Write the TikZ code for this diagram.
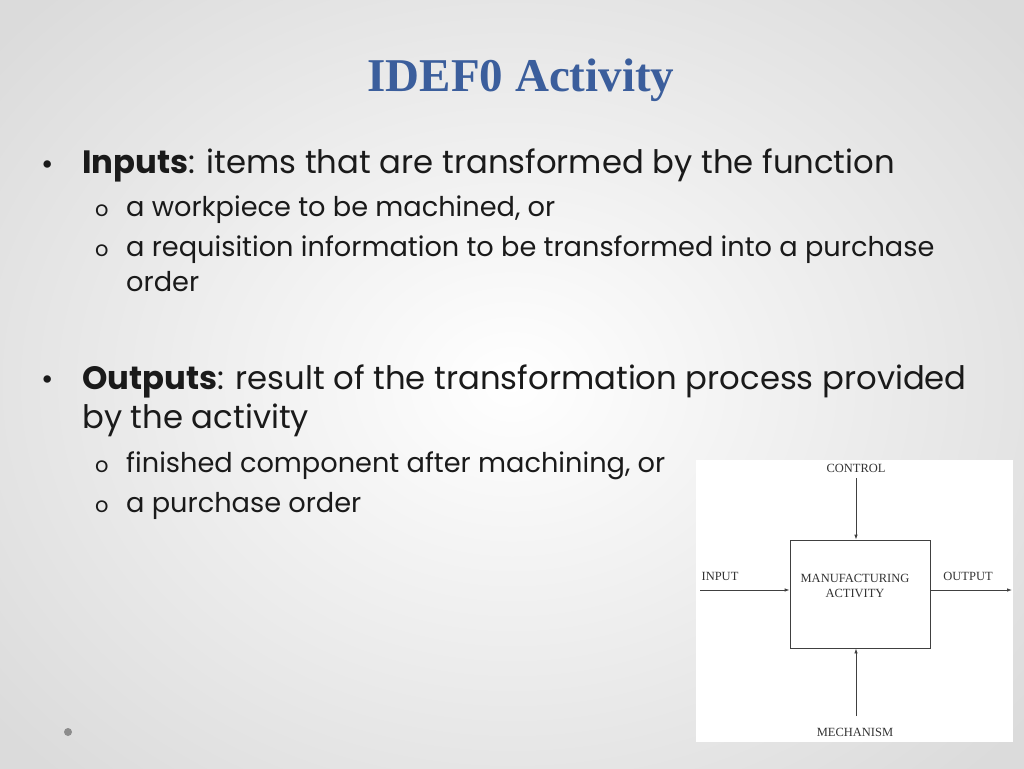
\documentclass[tikz,border=0pt]{standalone}
\usepackage{fontspec}
\setmainfont{Poppins}
\newfontfamily\titlefont{Liberation Serif}
\newfontfamily\diafont{Liberation Serif}
\usetikzlibrary{arrows.meta}
\definecolor{titleblue}{HTML}{3B5E9C}
\definecolor{txt}{HTML}{1A1A1A}
\tikzset{x=1pt,y=-1pt,
 main/.style={anchor=base west,font=\fontsize{32.3}{36}\selectfont,text=txt,inner sep=0},
 sub/.style={anchor=base west,font=\fontsize{27.2}{30}\selectfont,text=txt,inner sep=0},
 omark/.style={anchor=base west,font=\fontsize{21}{24}\selectfont,text=txt,inner sep=0},
 dot/.style={anchor=base,font=\fontsize{30}{34}\selectfont,text=txt,inner sep=0},
 dia/.style={font=\diafont\fontsize{12.5}{14.5}\selectfont,inner sep=0,text=black!80},
 arr/.style={draw=black!75,line width=0.8pt,-{Latex[length=5pt,width=3.5pt]}}}
\begin{document}
\begin{tikzpicture}
\useasboundingbox (0,0) rectangle (1024,768);
\shade[inner color=white,outer color=black!14] (-150,-150) rectangle (1174,918);
\node[font=\titlefont\bfseries\fontsize{47}{52}\selectfont,text=titleblue] (title) at (521,80) {IDEF0 Activity};
\node[dot] (b1) at (48,174) {•};
\node[main] (l1) at (82,173) {\textbf{Inputs}: items that are transformed by the function};
\node[omark] (o1) at (95,216) {o};
\node[sub] (l2) at (126,216) {a workpiece to be machined, or};
\node[omark] (o2) at (95,256) {o};
\node[sub] (l3) at (126,256) {a requisition information to be transformed into a purchase};
\node[sub] (l4) at (126,291) {order};
\node[dot] (b2) at (48,389) {•};
\node[main] (l5) at (82,389) {\textbf{Outputs}: result of the transformation process provided};
\node[main] (l6) at (82,428) {by the activity};
\node[omark] (o3) at (95,472) {o};
\node[sub] (l7) at (126,472) {finished component after machining, or};
\node[omark] (o4) at (95,512) {o};
\node[sub] (l8) at (126,512) {a purchase order};
\fill[white] (696,460) rectangle (1013,742);
\node[draw=black!75,line width=0.8pt,minimum width=140pt,minimum height=108pt,inner sep=0] (box) at (860,594) {};
\node[dia,align=center] (bt) at (855,586) {MANUFACTURING\\ACTIVITY};
\node[dia] (ctl) at (856,468) {CONTROL};
\node[dia] (mech) at (855,732) {MECHANISM};
\node[dia] (inp) at (720,576) {INPUT};
\node[dia] (outp) at (968,576) {OUTPUT};
\coordinate (ia) at (700,590);
\coordinate (ob) at (1012,590);
\coordinate (ct) at (856,478);
\coordinate (mb) at (856,716);
\draw[arr] (ia) -- (ia -| box.west);
\draw[arr] (box.east |- ob) -- (ob);
\draw[arr] (ct) -- (ct |- box.north);
\draw[arr] (mb) -- (mb |- box.south);
\fill[black!45] (68,732) circle (4);
\end{tikzpicture}
\end{document}
